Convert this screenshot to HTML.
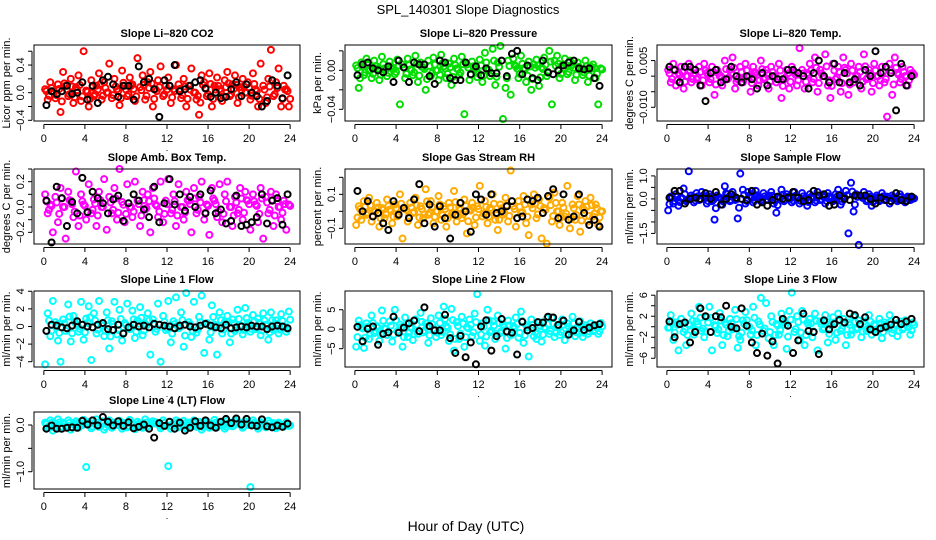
<!DOCTYPE html>
<html><head><meta charset="utf-8"><style>
body{margin:0;background:#fff;}
svg{display:block;font-family:"Liberation Sans",sans-serif;}
</style></head><body>
<svg id="chart" width="936" height="540" viewBox="0 0 936 540" xmlns="http://www.w3.org/2000/svg">
<rect x="0" y="0" width="936" height="540" fill="#fff"/>
<text x="468" y="14" font-size="13" text-anchor="middle">SPL_140301  Slope Diagnostics</text>
<text x="466" y="531" font-size="14" text-anchor="middle">Hour of Day (UTC)</text>
</svg>
<script>
const xTicks=[0,4,8,12,16,20,24];
const c1=[0.05,-0.1,0.15,0.02,-0.08,0.12,-0.28,0.3,0.1,-0.05,0.2,-0.15,0.08,0.25,-0.12,0.6,0.03,-0.2,0.18,-0.05,0.1,0.28,-0.1,0.15,0.0,0.42,-0.08,0.2,0.05,-0.18,0.32,0.1,-0.05,0.22,0.12,-0.12,0.5,0.08,0.25,-0.1,0.15,0.3,-0.2,0.05,0.18,0.38,-0.05,0.1,0.22,-0.15,0.05,0.4,0.12,-0.08,0.2,-0.2,0.1,0.35,0.0,-0.1,-0.32,0.25,0.15,-0.05,0.28,-0.2,0.1,0.22,0.05,-0.12,0.18,0.3,-0.05,0.12,0.25,-0.15,0.08,0.2,0.0,0.15,-0.1,0.28,0.05,-0.2,0.42,0.1,-0.15,0.2,0.62,-0.05,0.15,0.35,-0.2,0.1,0.05,-0.2];
const k1=[-0.18,0.02,-0.02,0.02,0.1,-0.02,0.0,0.15,-0.1,0.1,-0.15,0.18,0.23,0.12,-0.06,0.1,0.1,-0.1,0.38,0.15,0.2,0.05,-0.35,0.18,0.1,0.4,0.02,0.05,0.1,0.15,0.18,0.06,-0.06,0.0,-0.08,-0.06,0.05,0.15,-0.05,0.12,0.0,-0.05,-0.2,-0.12,0.18,0.1,-0.08,0.25];
const c2=[0.005,-0.018,0.008,-0.005,0.012,0.0,-0.008,0.01,0.004,-0.01,0.014,0.002,-0.006,0.009,0.003,-0.004,0.011,-0.035,0.006,-0.008,0.012,0.001,-0.005,0.015,-0.012,0.008,0.003,-0.02,0.01,-0.006,0.013,0.0,-0.01,0.016,0.004,-0.008,0.007,-0.015,0.012,0.002,-0.005,0.014,-0.045,0.006,-0.01,0.009,0.003,-0.007,0.011,-0.012,0.018,0.001,-0.006,0.022,-0.015,0.008,0.025,-0.05,-0.018,0.01,-0.025,0.012,0.004,-0.008,0.015,0.002,-0.012,0.009,-0.02,0.006,0.011,-0.016,0.003,0.013,-0.006,0.02,-0.035,0.01,0.015,-0.008,0.005,0.012,-0.004,0.01,0.006,-0.01,0.008,0.002,-0.005,0.01,-0.012,0.004,0.006,-0.008,-0.035,0.002];
const k2=[-0.005,0.006,0.008,0.002,0.0,-0.002,0.004,-0.012,0.01,0.003,-0.012,0.008,0.006,0.006,-0.006,-0.014,0.01,0.008,-0.008,-0.01,-0.01,0.008,-0.004,0.004,-0.005,0.002,-0.003,-0.003,0.01,-0.006,0.017,0.02,-0.004,0.005,-0.008,-0.01,0.01,-0.002,-0.004,0.0,0.005,0.008,0.01,0.002,0.001,0.002,-0.008,-0.016];
const c3=[0.002,-0.002,0.004,-0.003,0.001,0.003,-0.004,0.0,0.004,-0.002,0.002,-0.001,0.003,-0.003,0.004,0.001,-0.002,0.003,-0.006,0.002,0.0,-0.003,0.005,-0.001,0.002,0.006,-0.004,-0.001,0.003,-0.002,0.004,0.0,-0.005,0.003,0.001,-0.003,0.005,-0.001,0.002,-0.004,0.003,0.0,-0.002,0.004,-0.007,-0.001,0.002,-0.004,0.003,0.001,-0.003,0.009,0.002,-0.004,0.001,0.004,-0.002,0.006,-0.005,0.002,0.0,0.007,-0.003,-0.007,0.004,-0.001,0.003,-0.005,0.006,0.002,-0.006,0.004,-0.002,0.0,0.003,-0.004,0.007,-0.001,0.002,-0.005,0.004,0.0,-0.003,0.003,-0.002,-0.013,0.004,-0.006,0.006,0.001,-0.002,0.003,0.0,-0.003,0.002,0.001];
const k3=[0.003,0.002,-0.002,0.003,0.003,0.002,-0.003,-0.008,0.001,0.002,-0.002,-0.001,0.003,0.0,-0.002,0.0,-0.001,-0.004,0.001,-0.003,0.0,-0.001,-0.001,0.002,0.002,0.001,0.0,-0.004,0.001,0.005,0.0,-0.002,0.004,-0.002,0.001,-0.002,-0.001,-0.003,0.002,0.0,0.008,0.001,0.003,0.001,-0.011,0.004,-0.003,0.0];
const c4=[0.1,-0.05,0.02,-0.2,0.08,-0.12,0.15,0.0,-0.25,0.12,0.05,-0.08,0.28,-0.15,0.1,0.02,-0.1,0.18,-0.05,0.06,-0.15,0.12,0.0,0.22,-0.18,0.08,-0.05,0.15,-0.1,0.3,0.04,-0.12,0.18,0.0,-0.08,0.2,0.05,-0.15,0.12,-0.02,0.1,-0.2,0.15,0.02,-0.08,0.2,-0.12,0.05,0.22,-0.05,0.1,-0.15,0.18,0.0,-0.1,0.12,0.05,-0.2,0.15,-0.05,0.08,0.2,-0.1,0.02,-0.22,0.15,0.05,-0.08,0.18,-0.12,0.1,0.2,0.0,-0.15,0.08,-0.05,0.15,-0.1,0.12,0.05,-0.18,0.1,0.02,-0.12,0.15,-0.25,0.08,-0.05,0.12,-0.15,0.1,0.0,-0.1,0.05,-0.18,0.02];
const k4=[0.05,-0.28,0.16,0.07,-0.15,0.04,-0.05,0.23,-0.04,0.12,0.07,0.03,-0.05,0.06,0.09,-0.11,0.03,0.1,0.05,-0.02,-0.08,0.16,-0.12,0.03,0.22,0.02,0.1,-0.03,0.08,0.0,0.1,-0.05,0.13,-0.05,-0.02,-0.13,-0.11,0.09,-0.15,-0.14,-0.12,-0.08,0.1,-0.13,0.05,0.07,-0.14,0.1];
const c5=[-0.08,0.03,-0.05,0.06,-0.02,0.08,-0.06,0.0,0.05,-0.09,0.02,-0.04,0.07,0.01,-0.07,0.04,-0.03,0.1,-0.16,0.02,-0.06,0.05,-0.01,0.08,-0.08,0.03,-0.04,0.13,-0.02,0.06,-0.07,0.0,0.09,-0.05,0.03,-0.09,0.05,-0.02,0.12,-0.06,0.02,-0.04,0.07,-0.13,0.01,0.05,-0.08,0.03,0.15,-0.03,0.06,-0.07,0.02,0.1,-0.05,-0.11,0.04,-0.02,0.08,-0.06,0.24,0.03,-0.09,0.06,-0.01,0.09,-0.07,-0.14,0.04,0.1,-0.04,0.07,-0.16,0.02,-0.19,0.08,-0.06,0.11,0.0,-0.08,0.05,-0.03,0.15,-0.1,0.04,-0.05,0.09,-0.12,0.02,0.06,-0.06,0.08,-0.03,0.04,-0.08,0.0];
const k5=[0.12,0.0,0.06,-0.03,-0.01,-0.07,-0.11,0.06,-0.02,0.02,-0.04,0.07,0.16,-0.07,0.04,-0.09,0.03,-0.04,-0.16,-0.02,0.05,0.0,-0.12,0.1,0.07,-0.02,0.1,-0.01,0.0,0.03,0.06,-0.04,-0.03,0.07,0.06,0.08,-0.01,0.09,0.13,-0.04,0.1,-0.05,-0.03,0.1,-0.01,-0.08,-0.05,-0.09];
const c6=[-0.5,0.1,-0.2,0.2,-0.3,0.05,0.45,-0.1,1.2,0.15,-0.15,0.25,-0.05,0.3,0.1,-0.2,0.2,-0.1,-0.9,0.15,0.05,-0.25,0.55,0.2,-0.1,0.3,-0.05,-0.85,1.1,0.4,-0.2,0.3,0.1,-0.15,0.35,0.05,-0.1,0.25,-0.05,0.15,0.3,-0.2,-0.6,0.1,0.4,-0.1,0.2,0.05,-0.15,0.3,0.1,-0.2,0.25,0.0,-0.3,0.2,0.1,-0.15,0.3,-0.05,0.15,-0.2,0.25,0.05,-0.1,0.2,0.4,-0.25,0.1,0.35,-1.5,0.7,-0.55,0.2,-2.0,0.1,0.3,-0.1,0.2,-0.3,0.05,0.15,-0.1,0.25,-0.05,0.1,-0.2,0.15,0.05,-0.1,0.2,0.0,-0.15,0.1,-0.05,0.05];
const k6=[0.05,0.35,0.35,-0.2,0.0,0.05,0.0,0.25,0.0,0.3,-0.25,0.0,0.2,0.05,0.0,-0.05,0.35,-0.25,-0.15,-0.3,-0.05,0.1,0.0,0.05,0.3,0.05,-0.1,-0.05,0.35,0.15,0.2,-0.3,-0.25,0.15,0.0,-0.05,0.15,0.15,0.15,0.0,-0.2,0.05,-0.05,-0.1,0.25,-0.05,-0.1,0.1];
const c7=[-4.3,1.5,-1.1,2.9,0.5,-1.6,-4,0.8,-0.5,2.5,-1.7,1.2,0.3,-0.6,2.8,-1.5,0.9,2.3,-3.8,1.5,-0.8,2.9,0.2,-1.1,1.6,-2.5,0.6,2.8,-0.9,1.9,-1.6,0.4,2.6,-0.3,1.8,-1.3,0.7,2.2,-1.0,0.3,1.5,-3.2,0.8,-0.6,2.6,-4.0,1.2,-0.4,2.9,-1.8,0.6,3.3,-0.2,1.6,-2.3,3.8,0.5,-1.2,2.8,-0.7,1.1,3.5,-3.0,0.4,-1.5,2.4,0.2,-3.2,1.6,-0.8,0.5,1.2,-1.8,0.8,-0.5,1.9,0.1,-0.9,2.1,0.4,-0.6,1.3,-0.3,0.9,-1.0,1.5,0.2,-1.5,1.6,-0.4,0.7,-0.8,1.4,0.0,-0.6,1.7];
const k7=[-0.5,0.2,0.1,-0.1,-0.2,0.1,0.6,0.2,0.0,-0.1,0.2,0.4,-0.3,-0.4,0.2,-0.8,-0.1,0.2,0.0,0.1,-0.1,0.3,0.2,0.1,0.0,-0.2,0.1,0.2,0.0,-0.1,0.1,0.3,0.1,-0.1,-0.2,0.2,-0.2,-0.1,0.0,-0.1,0.1,0.0,0.0,-0.3,0.0,0.1,0.0,-0.2];
const c8=[-4.5,2.2,0.5,-4.8,1.5,-2.5,3.5,-1.0,0.8,-3.0,4.8,0.2,-1.5,2.0,-3.2,5.0,-0.5,1.2,-4.5,3.0,-2.0,0.5,-2.8,2.5,-1.2,4.2,-0.8,1.5,-3.5,2.8,0.0,-2.0,3.5,-1.5,5.8,0.8,-3.0,5.2,-5.5,1.8,-2.5,3.2,-4.5,0.5,2.5,-1.8,4.0,9.0,-3.0,1.5,-4.2,5.0,-0.8,2.0,-2.5,3.5,-1.0,1.2,-5.0,2.2,-1.5,0.8,3.0,-2.2,4.5,-3.5,1.0,-7.0,2.5,-1.8,-2.5,1.8,-3.2,0.5,2.8,-1.2,3.0,-2.0,0.8,-1.5,2.5,-2.8,1.5,-0.5,3.2,-1.8,0.6,2.0,-2.0,1.0,-1.2,1.5,-0.5,0.8,-1.2,1.6];
const k8=[0.6,-3.1,0.1,0.7,-4.0,-1.2,-0.8,3.2,-0.9,0.4,1.5,2.2,-0.5,5.6,0.8,-0.3,-0.3,3.7,-2.3,-6.1,-1.7,-7.2,-3.4,-9.0,0.7,2.3,-5.5,-1.8,2.6,-0.6,-0.9,-6.5,1.9,-0.3,0.3,1.8,1.7,3.2,3.0,1.1,2.2,-1.4,-0.3,1.9,-0.2,0.4,1.0,1.3];
const c9=[-0.2,2.2,-2.5,0.8,-4.5,1.5,-1.0,-3.5,0.5,2.5,-1.5,1.0,3.8,-0.8,-2.0,1.8,3.8,-4.5,0.3,-1.2,2.6,-3.5,0.8,-1.8,1.5,-0.5,3.2,-4.0,-2.5,1.2,2.8,0.0,-1.5,3.8,-3.5,1.0,5.5,-0.8,4.5,-2.2,2.0,-3.5,0.5,-1.5,2.5,0.8,-4.2,3.0,6.5,-1.0,2.0,-2.5,3.0,-3.5,0.8,1.5,-2.0,2.5,-4.5,1.0,-0.5,2.2,-3.0,0.5,1.8,-2.5,2.5,-0.8,1.5,-3.5,0.8,-1.5,2.0,-0.5,1.2,-2.0,1.0,-0.8,2.2,-1.5,0.5,-1.0,1.5,-2.2,0.8,-0.3,2.2,-1.2,0.5,-1.8,1.0,-0.5,1.2,0.0,-1.5,0.8];
const k9=[1.0,-2.0,0.5,0.8,-3.0,-1.0,3.5,2.0,-1.0,2.0,1.8,4.0,0.0,-0.3,3.5,0.2,-3.0,-5.0,-1.3,-5.5,-2.8,-7.0,1.5,0.2,-5.0,-2.6,2.5,-0.8,-1.0,-5.2,1.2,-0.5,0.5,1.3,0.8,2.5,2.2,0.5,1.8,-0.5,-1.0,-0.3,0.0,0.4,1.3,0.5,1.0,1.5];
const c10=[0.05,-0.05,0.1,-0.12,0.02,0.12,-0.08,0.05,-0.03,0.1,-0.1,0.04,0.08,-0.06,0.0,0.11,-0.9,0.06,-0.07,0.03,0.12,-0.04,0.08,-0.1,0.02,0.1,-0.06,0.05,0.0,0.09,-0.08,0.04,-0.05,0.11,0.02,-0.09,0.07,0.0,-0.06,0.12,-0.03,0.05,0.08,0.06,0.03,-0.07,0.1,-0.02,-0.88,-0.08,0.04,0.1,-0.05,0.02,0.09,-0.07,0.05,0.0,0.1,-0.04,0.07,-0.1,0.03,0.08,-0.06,0.02,0.11,-0.05,0.06,0.0,-0.08,0.09,0.04,-0.03,0.1,0.06,0.05,-0.06,0.08,0.0,-1.33,0.1,0.03,-0.08,0.06,0.02,-0.05,0.09,-0.02,0.04,-0.07,0.05,0.0,-0.04,0.06,-0.02];
const k10=[-0.08,-0.01,-0.08,-0.08,-0.06,-0.05,-0.06,0.09,0.01,0.1,-0.01,0.17,0.07,-0.01,0.08,-0.02,0.06,-0.07,-0.04,0.01,-0.08,-0.27,0.04,-0.02,0.07,-0.08,0.05,-0.12,-0.06,0.08,-0.02,0.1,-0.01,-0.06,0.07,0.13,0.04,0.14,0.01,0.13,-0.01,-0.02,0.12,-0.03,-0.05,-0.01,-0.04,0.03];
const panelTitles=["Slope Li–820 CO2","Slope Li–820 Pressure","Slope Li–820 Temp.","Slope Amb. Box Temp.","Slope Gas Stream RH","Slope Sample Flow","Slope Line 1 Flow","Slope Line 2 Flow","Slope Line 3 Flow","Slope Line 4 (LT) Flow"];
const yLabels=["Licor ppm per min.","kPa per min.","degrees C per min.","degrees C per min.","percent per min.","ml/min per min.","ml/min per min.","ml/min per min.","ml/min per min.","ml/min per min."];
const yTicks=[[-0.4,-0.2,0,0.2,0.4,0.6],[-0.04,-0.02,0,0.02],[-0.01,-0.005,0,0.005],[-0.2,-0.1,0,0.1,0.2,0.3],[-0.1,0,0.1,0.2],[-1.5,-1,-0.5,0,0.5,1],[-4,-2,0,2,4],[-5,0,5],[-6,-4,-2,0,2,4,6],[-1,-0.5,0]];
const yTickText=[["-0.4","","0.0","","0.4",""],["-0.04","","0.00",""],["-0.010","","","0.005"],["-0.2","","0.0","","0.2",""],["-0.1","","0.1",""],["-1.5","","","0.0","","1.0"],["-4","-2","0","2","4"],["-5","0","5"],["-6","","-2","","2","","6"],["-1.0","","0.0"]];
const yLims=[[-0.41,0.69],[-0.052,0.026],[-0.0144,0.0100],[-0.292,0.30],[-0.192,0.249],[-1.96,1.30],[-4.6,4.03],[-9.7,9.8],[-7.66,6.8],[-1.37,0.278]];
const colored=[c1,c2,c3,c4,c5,c6,c7,c8,c9,c10];
const black=[k1,k2,k3,k4,k5,k6,k7,k8,k9,k10];
const colors=["#ff0000","#00dd00","#ff00ff","#ff00ff","#ffaa00","#0000ff","#00ffff","#00ffff","#00ffff","#00ffff"];
const colLeft=[34,345,657], colRight=[300,612,924];
const rowTop=[45,169,291,412], rowBot=[121,244,367,489];
const NS="http://www.w3.org/2000/svg";
const svg=document.getElementById('chart');
function mk(tag,attrs,parent){const e=document.createElementNS(NS,tag);for(const k in attrs)e.setAttribute(k,attrs[k]);(parent||svg).appendChild(e);return e;}
for(let p=0;p<10;p++){
  const col=p%3,row=Math.floor(p/3);
  const L=colLeft[col],R=colRight[col],T=rowTop[row],B=rowBot[row];
  const [y0,y1]=yLims[p];
  const xs=h=>L+(h+0.96)/25.92*(R-L);
  const ys=v=>B-(v-y0)/(y1-y0)*(B-T);
  const g=mk('g',{});
  
  
  const ttl=mk('text',{x:(L+R)/2,y:T-8,'font-size':11,'font-weight':'bold','text-anchor':'middle'},g);
  ttl.textContent=panelTitles[p];
  
  
  const cs=colored[p];
  const lim=0.3*(y1-y0);
  for(let i=0;i<cs.length;i++){
    const h=(i+0.5)*24/cs.length;
    const c=mk('circle',{cx:xs(h),cy:ys(cs[i]),r:3,fill:'none',stroke:colors[p],'stroke-width':2},g);
    
    
    if(Math.abs(cs[i])<lim){
      const c2b=mk('circle',{cx:xs(h)+1.3,cy:ys(cs[i]*0.45),r:3,fill:'none',stroke:colors[p],'stroke-width':2},g);
      
      
    }
  }
  const ks=black[p];
  for(let i=0;i<ks.length;i++){
    const h=(i+0.5)*24/ks.length;
    const c=mk('circle',{cx:xs(h),cy:ys(ks[i]),r:3,fill:'none',stroke:'#000','stroke-width':2},g);
    
    
  }
  const box=mk('rect',{x:L,y:T,width:R-L,height:B-T,fill:'none',stroke:'#000','stroke-width':1},g);
  
  
  const ax=mk('line',{x1:xs(0),x2:xs(24),y1:B+3.5,y2:B+3.5,stroke:'#000'},g);
  
  
  xTicks.forEach(t=>{
    mk('line',{x1:xs(t),x2:xs(t),y1:B+3.5,y2:B+8,stroke:'#000'},g);
    const tx=mk('text',{x:xs(t),y:B+21,'font-size':11,'text-anchor':'middle'},g);
    tx.textContent=t;
    
    
  });
  mk('text',{x:(L+R)/2,y:B+30,'font-size':9,'text-anchor':'middle'},g).textContent='.';
  const yt=yTicks[p];
  const ay=mk('line',{x1:L-2,x2:L-2,y1:ys(yt[0]),y2:ys(yt[yt.length-1]),stroke:'#000'},g);
  
  
  yt.forEach((t,i)=>{
    mk('line',{x1:L-6,x2:L-2,y1:ys(t),y2:ys(t),stroke:'#000'},g);
    const s=yTickText[p][i];
    if(s){
      const tx=mk('text',{x:0,y:0,'font-size':11,'text-anchor':'middle',transform:`translate(${L-10},${ys(t)}) rotate(-90)`},g);
      tx.textContent=s.replace('-','−');
      
      
    }
  });
  const yl=mk('text',{x:0,y:0,'font-size':11,'text-anchor':'middle',transform:`translate(${L-24},${(T+B)/2}) rotate(-90)`},g);
  yl.textContent=yLabels[p];
  
  
}
</script>
</body></html>
